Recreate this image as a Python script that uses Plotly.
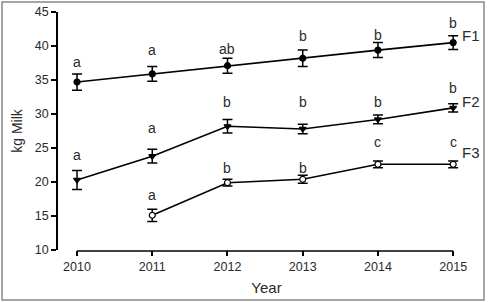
import plotly.graph_objects as go

years = [2010, 2011, 2012, 2013, 2014, 2015]
years_f3 = [2011, 2012, 2013, 2014, 2015]

f1_mean = [34.7, 35.9, 37.1, 38.2, 39.4, 40.5]
f1_err = [1.2, 1.1, 1.1, 1.2, 1.1, 1.0]
f1_letters = ["a", "a", "ab", "b", "b", "b"]
f1_letter_y = [37.6, 39.4, 39.6, 41.5, 41.6, 43.4]

f2_mean = [20.3, 23.8, 28.2, 27.8, 29.2, 30.9]
f2_err = [1.4, 1.0, 1.0, 0.7, 0.65, 0.6]
f2_letters = ["a", "a", "b", "b", "b", "b"]
f2_letter_y = [24.0, 27.9, 31.8, 31.8, 31.8, 33.8]

f3_mean = [15.1, 19.9, 20.4, 22.6, 22.6]
f3_err = [0.9, 0.5, 0.6, 0.5, 0.5]
f3_letters = ["a", "b", "b", "c", "c"]
f3_letter_y = [18.1, 22.1, 22.1, 25.9, 25.9]

series_names = ["F1", "F2", "F3"]
series_label_y = [41.6, 31.8, 24.3]

y_ticks = [10, 15, 20, 25, 30, 35, 40, 45]

FONT = "Liberation Sans, Arial, sans-serif"
TXT = "#2a2a2a"

fig = go.Figure()

def add_series(x, y, e, symbol, fill):
    fig.add_trace(go.Scatter(
        x=x, y=y, mode="lines+markers",
        line=dict(color="black", width=1.6),
        marker=dict(symbol=symbol, size=6, color=fill, line=dict(color="black", width=1.2)),
        error_y=dict(type="data", array=e, visible=True, color="black", thickness=1.5, width=5),
        showlegend=False,
    ))

add_series(years, f1_mean, f1_err, "circle", "black")
add_series(years, f2_mean, f2_err, "triangle-down", "black")
add_series(years_f3, f3_mean, f3_err, "circle", "white")

for xs, ls, ys in [(years, f1_letters, f1_letter_y),
                   (years, f2_letters, f2_letter_y),
                   (years_f3, f3_letters, f3_letter_y)]:
    for xv, t, yv in zip(xs, ls, ys):
        fig.add_annotation(x=xv, y=yv, text=t, showarrow=False,
                           font=dict(family=FONT, size=14, color=TXT))

for name, yv in zip(series_names, series_label_y):
    fig.add_annotation(x=years[-1], y=yv, text=name, showarrow=False,
                       xanchor="left", xshift=7,
                       font=dict(family=FONT, size=15, color=TXT))

# x axis line only spanning the year range
fig.add_shape(type="line", xref="x", yref="paper", x0=years[0], x1=years[-1],
              y0=-1/238, y1=-1/238, line=dict(color="black", width=1.6))
# outer frame
fig.add_shape(type="rect", xref="paper", yref="paper",
              x0=-56/417, x1=(484-58)/417, y0=-(300-250)/238, y1=(250-2)/238,
              line=dict(color="#888888", width=1.5))

fig.update_layout(
    width=488, height=302,
    margin=dict(l=58, r=13, t=12, b=52, autoexpand=False),
    paper_bgcolor="white", plot_bgcolor="white",
    font=dict(family=FONT, color=TXT),
)
fig.update_xaxes(
    automargin=False,
    range=[2009.747, 2015.29], tickvals=years, ticktext=[str(v) for v in years],
    showgrid=False, zeroline=False, showline=False,
    ticks="outside", ticklen=5, tickcolor="black", tickwidth=1.5,
    tickfont=dict(size=12.5, color=TXT),
    title=dict(text="Year", font=dict(size=15, color=TXT), standoff=9),
)
fig.update_yaxes(
    automargin=False,
    range=[10, 45], tickvals=y_ticks,
    showgrid=False, zeroline=False, showline=True, linecolor="black", linewidth=1.6,
    ticks="outside", ticklen=5, tickcolor="black", tickwidth=1.5,
    tickfont=dict(size=12.5, color=TXT),
    title=dict(text="kg Milk", font=dict(size=14, color=TXT), standoff=9),
)

fig.write_html("out.html")
